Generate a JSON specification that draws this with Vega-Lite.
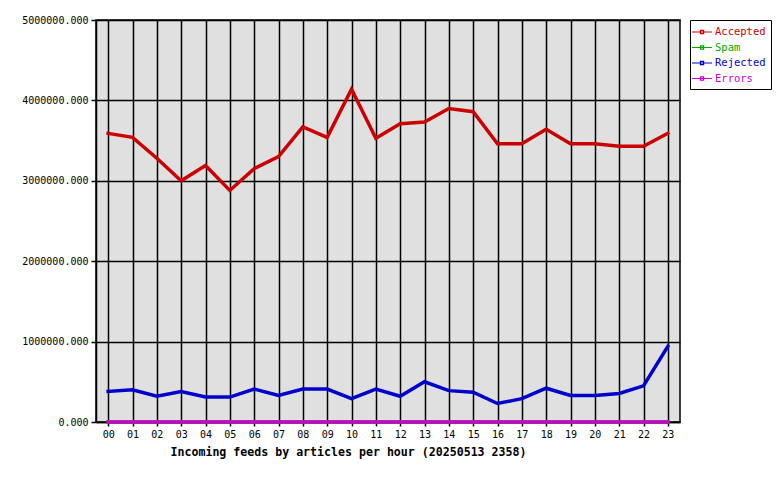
{
  "$schema": "https://vega.github.io/schema/vega-lite/v6.json",
  "autosize": "none",
  "width": 584,
  "height": 402,
  "padding": {"left": 96, "top": 20, "right": 100, "bottom": 58},
  "background": "white",
  "config": {
    "font": "DejaVu Sans Mono",
    "view": {"fill": "#e0e0e0", "stroke": "black", "strokeWidth": 1.5},
    "axis": {"labelFont": "DejaVu Sans Mono", "labelFontSize": 10, "labelColor": "black", "domainColor": "black", "tickColor": "black", "gridColor": "black", "gridOpacity": 1, "gridWidth": 1.5, "domainWidth": 1.5, "tickWidth": 1.5}
  },
  "data": {
    "values": [
      {"hour": "00", "Accepted": 3590000, "Spam": 0, "Rejected": 380000, "Errors": 0},
      {"hour": "01", "Accepted": 3540000, "Spam": 0, "Rejected": 400000, "Errors": 0},
      {"hour": "02", "Accepted": 3280000, "Spam": 0, "Rejected": 320000, "Errors": 0},
      {"hour": "03", "Accepted": 3000000, "Spam": 0, "Rejected": 380000, "Errors": 0},
      {"hour": "04", "Accepted": 3190000, "Spam": 0, "Rejected": 310000, "Errors": 0},
      {"hour": "05", "Accepted": 2880000, "Spam": 0, "Rejected": 310000, "Errors": 0},
      {"hour": "06", "Accepted": 3150000, "Spam": 0, "Rejected": 410000, "Errors": 0},
      {"hour": "07", "Accepted": 3300000, "Spam": 0, "Rejected": 330000, "Errors": 0},
      {"hour": "08", "Accepted": 3670000, "Spam": 0, "Rejected": 410000, "Errors": 0},
      {"hour": "09", "Accepted": 3540000, "Spam": 0, "Rejected": 410000, "Errors": 0},
      {"hour": "10", "Accepted": 4140000, "Spam": 0, "Rejected": 290000, "Errors": 0},
      {"hour": "11", "Accepted": 3530000, "Spam": 0, "Rejected": 410000, "Errors": 0},
      {"hour": "12", "Accepted": 3710000, "Spam": 0, "Rejected": 320000, "Errors": 0},
      {"hour": "13", "Accepted": 3730000, "Spam": 0, "Rejected": 500000, "Errors": 0},
      {"hour": "14", "Accepted": 3900000, "Spam": 0, "Rejected": 390000, "Errors": 0},
      {"hour": "15", "Accepted": 3860000, "Spam": 0, "Rejected": 370000, "Errors": 0},
      {"hour": "16", "Accepted": 3460000, "Spam": 0, "Rejected": 230000, "Errors": 0},
      {"hour": "17", "Accepted": 3460000, "Spam": 0, "Rejected": 290000, "Errors": 0},
      {"hour": "18", "Accepted": 3640000, "Spam": 0, "Rejected": 420000, "Errors": 0},
      {"hour": "19", "Accepted": 3460000, "Spam": 0, "Rejected": 330000, "Errors": 0},
      {"hour": "20", "Accepted": 3460000, "Spam": 0, "Rejected": 330000, "Errors": 0},
      {"hour": "21", "Accepted": 3430000, "Spam": 0, "Rejected": 355000, "Errors": 0},
      {"hour": "22", "Accepted": 3430000, "Spam": 0, "Rejected": 450000, "Errors": 0},
      {"hour": "23", "Accepted": 3590000, "Spam": 0, "Rejected": 940000, "Errors": 0}
    ]
  },
  "transform": [
    {"fold": ["Accepted", "Spam", "Rejected", "Errors"], "as": ["series", "value"]}
  ],
  "mark": {"type": "line", "strokeWidth": 3.5, "strokeCap": "square", "strokeJoin": "miter"},
  "encoding": {
    "x": {
      "field": "hour", "type": "ordinal",
      "scale": {"type": "point", "padding": 0.5},
      "axis": {
        "title": "Incoming feeds by articles per hour (20250513 2358)",
        "titleFont": "DejaVu Sans Mono", "titleFontSize": 11.6, "titleFontWeight": "bold", "titleColor": "black",
        "titleAlign": "left", "titleAnchor": "start", "titleX": 74, "titleY": 30, "titleBaseline": "middle",
        "labelAngle": 0, "tickSize": 4, "labelPadding": 3, "grid": true, "domain": true
      }
    },
    "y": {
      "field": "value", "type": "quantitative",
      "scale": {"domain": [0, 5000000], "nice": false},
      "axis": {"title": null, "format": ".3f", "values": [0, 1000000, 2000000, 3000000, 4000000, 5000000], "tickSize": 5, "labelPadding": 3, "grid": true}
    },
    "color": {
      "field": "series", "type": "nominal",
      "scale": {"domain": ["Accepted", "Spam", "Rejected", "Errors"], "range": ["#cc0000", "#00aa00", "#0000cc", "#cc00cc"]},
      "sort": ["Accepted", "Spam", "Rejected", "Errors"],
      "legend": {
        "title": null, "orient": "right", "offset": 10,
        "strokeColor": "black", "fillColor": "white", "padding": 5,
        "symbolType": "M-1.6,0H1.6M-0.25,-0.25H0.25V0.25H-0.25Z", "symbolSize": 156, "symbolStrokeWidth": 1.2,
        "labelFont": "DejaVu Sans Mono", "labelFontSize": 10.5, "labelOffset": 6, "rowPadding": 2.5,
        "encode": {"labels": {"update": {"fill": {"scale": "color", "field": "value"}}}}
      }
    },
    "order": {"field": "series"}
  }
}
